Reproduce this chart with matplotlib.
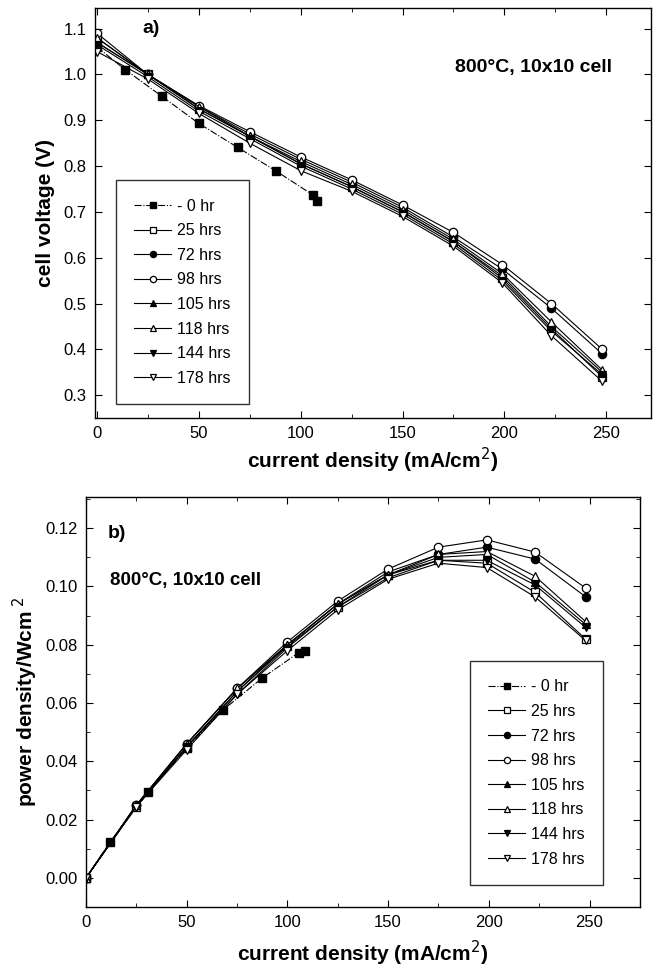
import matplotlib
matplotlib.use("Agg")
import matplotlib.pyplot as plt
from matplotlib.ticker import MultipleLocator, FormatStrFormatter

plt.rcParams['font.family'] = ['Liberation Sans', 'DejaVu Sans']

# current density (mA/cm2) for the aged runs
cur = [0, 25, 50, 75, 100, 125, 150, 175, 199, 223, 248]

# 0 hr run was stopped early
cur_0 = [0, 14, 32, 50, 69, 88, 106, 108]
volt_0 = [1.06, 1.01, 0.952, 0.893, 0.841, 0.789, 0.737, 0.724]
cur_0p = [0, 12, 31, 50, 68, 87.5, 105.6, 108.5]
pow_0 = [0, 0.0124, 0.0295, 0.0445, 0.0576, 0.0686, 0.0773, 0.0777]

labels = ["25 hrs", "72 hrs", "98 hrs", "105 hrs", "118 hrs", "144 hrs", "178 hrs"]

volt = [
    [1.08, 1.00, 0.925, 0.865, 0.805, 0.755, 0.700, 0.635, 0.555, 0.445, 0.340],
    [1.07, 1.00, 0.930, 0.870, 0.815, 0.765, 0.710, 0.645, 0.575, 0.490, 0.390],
    [1.09, 1.00, 0.932, 0.875, 0.820, 0.770, 0.715, 0.655, 0.585, 0.500, 0.400],
    [1.07, 1.00, 0.925, 0.865, 0.805, 0.755, 0.700, 0.635, 0.560, 0.450, 0.350],
    [1.08, 1.00, 0.930, 0.865, 0.810, 0.760, 0.705, 0.640, 0.565, 0.460, 0.355],
    [1.065, 0.995, 0.920, 0.860, 0.800, 0.750, 0.695, 0.630, 0.550, 0.440, 0.345],
    [1.05, 0.990, 0.915, 0.850, 0.790, 0.745, 0.690, 0.625, 0.545, 0.430, 0.330],
]

power = [
    [0, 0.0245, 0.045, 0.064, 0.0795, 0.093, 0.104, 0.109, 0.108, 0.098, 0.082],
    [0, 0.025, 0.046, 0.065, 0.080, 0.094, 0.105, 0.111, 0.1135, 0.1094, 0.0965],
    [0, 0.025, 0.046, 0.065, 0.081, 0.095, 0.106, 0.1135, 0.116, 0.1118, 0.0995],
    [0, 0.025, 0.045, 0.064, 0.080, 0.094, 0.104, 0.110, 0.111, 0.1015, 0.087],
    [0, 0.025, 0.046, 0.065, 0.080, 0.094, 0.104, 0.111, 0.112, 0.1035, 0.088],
    [0, 0.0245, 0.045, 0.063, 0.079, 0.093, 0.103, 0.109, 0.109, 0.1005, 0.086],
    [0, 0.0245, 0.044, 0.063, 0.078, 0.092, 0.1025, 0.108, 0.1065, 0.0964, 0.0815],
]

markers = ['s', 'o', 'o', '^', '^', 'v', 'v']
filled = [False, True, False, True, False, True, False]


def style_axes(ax):
    ax.tick_params(which='both', direction='in', top=True, right=True, labelsize=12, pad=6)
    ax.tick_params(which='major', length=5)
    ax.tick_params(which='minor', length=3)
    for s in ax.spines.values():
        s.set_linewidth(1.0)


def draw(ax, x0, y0, ys):
    ax.plot(x0, y0, '-.', color='k', lw=0.8, marker='s', ms=5.5,
            mfc='k', mec='k', label='- 0 hr')
    for y, m, f, lab in zip(ys, markers, filled, labels):
        ax.plot(cur, y, '-', color='k', lw=0.8, marker=m, ms=6,
                mfc='k' if f else 'white', mec='k', mew=0.9, label=lab)


def add_legend(ax, anchor):
    leg = ax.legend(loc='lower left', bbox_to_anchor=anchor, fontsize=11.5,
                    frameon=True, fancybox=False, edgecolor='k', handlelength=2.3,
                    labelspacing=0.6, borderpad=1.15, handletextpad=0.35,
                    markerscale=0.75, borderaxespad=0)
    leg.get_frame().set_linewidth(1.0)
    return leg


fig = plt.figure(figsize=(6.59, 9.67), dpi=100)

# a) voltage
ax1 = fig.add_axes([0.144, 0.5677, 0.844, 0.424])
draw(ax1, cur_0, volt_0, volt)
ax1.set_xlim(-1, 272)
ax1.set_ylim(0.25, 1.145)
ax1.xaxis.set_major_locator(MultipleLocator(50))
ax1.xaxis.set_minor_locator(MultipleLocator(25))
ax1.yaxis.set_major_locator(MultipleLocator(0.1))
ax1.yaxis.set_major_formatter(FormatStrFormatter('%.1f'))
style_axes(ax1)
ax1.set_xlabel('current density (mA/cm$^2$)', fontsize=15, fontweight='bold', labelpad=3)
ax1.set_ylabel('cell voltage (V)', fontsize=15, fontweight='bold', labelpad=6)
ax1.text(0.086, 0.95, 'a)', transform=ax1.transAxes, fontsize=14, fontweight='bold',
         va='center', ha='left')
ax1.text(0.647, 0.856, '800°C, 10x10 cell', transform=ax1.transAxes, fontsize=14,
         fontweight='bold', va='center', ha='left')
add_legend(ax1, (0.038, 0.034))

# b) power density
ax2 = fig.add_axes([0.1305, 0.062, 0.8405, 0.424])
draw(ax2, cur_0p, pow_0, power)
ax2.set_xlim(0, 275)
ax2.set_ylim(-0.01, 0.1307)
ax2.xaxis.set_major_locator(MultipleLocator(50))
ax2.xaxis.set_minor_locator(MultipleLocator(25))
ax2.yaxis.set_major_locator(MultipleLocator(0.02))
ax2.yaxis.set_minor_locator(MultipleLocator(0.01))
ax2.yaxis.set_major_formatter(FormatStrFormatter('%.2f'))
style_axes(ax2)
ax2.set_xlabel('current density (mA/cm$^2$)', fontsize=15, fontweight='bold', labelpad=6)
ax2.set_ylabel('power density/Wcm$^{\\ 2}$', fontsize=15, fontweight='bold', labelpad=4)
ax2.text(0.04, 0.912, 'b)', transform=ax2.transAxes, fontsize=14, fontweight='bold',
         va='center', ha='left')
ax2.text(0.043, 0.797, '800°C, 10x10 cell', transform=ax2.transAxes, fontsize=13.5,
         fontweight='bold', va='center', ha='left')
add_legend(ax2, (0.693, 0.054))

fig.savefig('out.png', dpi=100)
